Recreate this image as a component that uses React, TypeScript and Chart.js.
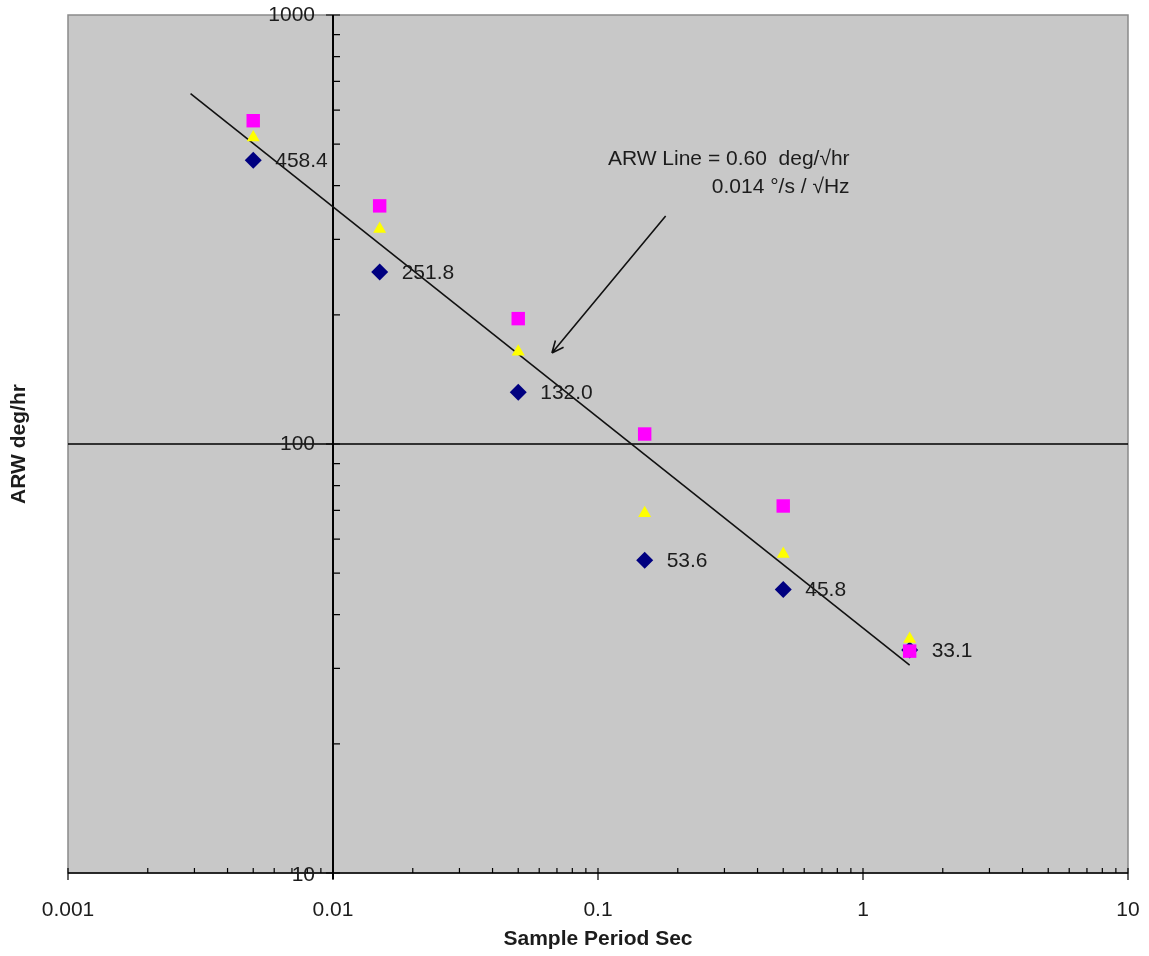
import React, { useEffect, useRef } from 'react';
import { Chart, registerables } from 'chart.js';

Chart.register(...registerables);

// ---- data ----
const samplePeriods = [0.005, 0.015, 0.05, 0.15, 0.5, 1.5];
const arwBlue = [458.4, 251.8, 132.0, 53.6, 45.8, 33.1];
const arwPink = [567, 359, 196, 105.5, 71.7, 32.9];
const arwYellow = [518, 317, 164, 69, 55.4, 35.1];
const trendX = [0.0029, 1.5];
const trendY = [656, 30.5];
const xTickValues = [0.001, 0.01, 0.1, 1, 10];
const xTickLabels = ['0.001', '0.01', '0.1', '1', '10'];
const yTickValues = [10, 100, 1000];
const yTickLabels = ['10', '100', '1000'];
const annotationLines = ['ARW Line = 0.60  deg/\u221Ahr', '0.014 \u00B0/s / \u221AHz'];
const arrowFrom = { x: 0.18, y: 340 };
const arrowTo = { x: 0.067, y: 163 };
const annotationAnchor = { x: 0.89, y: 462 };

const FONT = "'Liberation Sans', Arial, sans-serif";
const TEXT = '#1c1c1c';
const PLOT_BG = '#c8c8c8';

export default function App() {
  const ref = useRef<HTMLCanvasElement>(null);

  useEffect(() => {
    const canvas = ref.current;
    if (!canvas) return;

    const decor = {
      id: 'decor',
      beforeDraw(chart: any) {
        const { ctx, chartArea: a } = chart;
        ctx.save();
        ctx.fillStyle = '#ffffff';
        ctx.fillRect(0, 0, chart.width, chart.height);
        ctx.fillStyle = PLOT_BG;
        ctx.fillRect(a.left, a.top, a.right - a.left, a.bottom - a.top);
        ctx.strokeStyle = '#8a8a8a';
        ctx.lineWidth = 1.5;
        ctx.strokeRect(a.left, a.top, a.right - a.left, a.bottom - a.top);
        ctx.restore();
      },
      beforeDatasetsDraw(chart: any) {
        const { ctx, chartArea: a } = chart;
        const xs = chart.scales.x;
        const ys = chart.scales.y;
        const x0 = xs.getPixelForValue(0.01);
        const y100 = ys.getPixelForValue(100);
        ctx.save();
        ctx.strokeStyle = '#000000';
        ctx.lineWidth = 1.5;
        ctx.beginPath();
        ctx.moveTo(a.left, y100);
        ctx.lineTo(a.right, y100);
        ctx.stroke();
        ctx.beginPath();
        ctx.moveTo(a.left, a.bottom);
        ctx.lineTo(a.right, a.bottom);
        ctx.stroke();
        ctx.lineWidth = 2;
        ctx.beginPath();
        ctx.moveTo(x0, a.top);
        ctx.lineTo(x0, a.bottom + 6);
        ctx.stroke();
        ctx.lineWidth = 1.2;
        ctx.beginPath();
        for (let d = 10; d < 1000; d *= 10) {
          for (let m = 2; m <= 9; m++) {
            const py = ys.getPixelForValue(m * d);
            ctx.moveTo(x0, py);
            ctx.lineTo(x0 + 7, py);
          }
        }
        yTickValues.forEach((v) => {
          const py = ys.getPixelForValue(v);
          ctx.moveTo(x0 - 7, py);
          ctx.lineTo(x0 + 7, py);
        });
        for (let d = 0.001; d < 9; d *= 10) {
          for (let m = 2; m <= 9; m++) {
            const px = xs.getPixelForValue(m * d);
            ctx.moveTo(px, a.bottom);
            ctx.lineTo(px, a.bottom - 5);
          }
        }
        xTickValues.forEach((v) => {
          const px = xs.getPixelForValue(v);
          ctx.moveTo(px, a.bottom - 5);
          ctx.lineTo(px, a.bottom + 7);
        });
        ctx.stroke();
        ctx.restore();
      },
      afterDatasetsDraw(chart: any) {
        const { ctx } = chart;
        const xs = chart.scales.x;
        const ys = chart.scales.y;
        const x0 = xs.getPixelForValue(0.01);
        ctx.save();
        ctx.font = `21px ${FONT}`;
        ctx.fillStyle = TEXT;
        ctx.textBaseline = 'middle';
        ctx.textAlign = 'right';
        yTickValues.forEach((v, i) => {
          let py = ys.getPixelForValue(v);
          if (v === 10) py += 2;
          ctx.fillText(yTickLabels[i], x0 - 18, py);
        });
        ctx.textAlign = 'left';
        const meta = chart.getDatasetMeta(2);
        meta.data.forEach((pt: any, i: number) => {
          ctx.fillText(arwBlue[i].toFixed(1), pt.x + 22, pt.y + 1);
        });
        ctx.textAlign = 'right';
        const ax = xs.getPixelForValue(annotationAnchor.x);
        const ay = ys.getPixelForValue(annotationAnchor.y);
        annotationLines.forEach((t, i) => ctx.fillText(t, ax, ay + i * 28));
        const fx = xs.getPixelForValue(arrowFrom.x);
        const fy = ys.getPixelForValue(arrowFrom.y);
        const tx = xs.getPixelForValue(arrowTo.x);
        const ty = ys.getPixelForValue(arrowTo.y);
        ctx.strokeStyle = '#111111';
        ctx.lineWidth = 1.6;
        ctx.beginPath();
        ctx.moveTo(fx, fy);
        ctx.lineTo(tx, ty);
        const ang = Math.atan2(ty - fy, tx - fx);
        const L = 13;
        ctx.moveTo(tx, ty);
        ctx.lineTo(tx - L * Math.cos(ang - 0.42), ty - L * Math.sin(ang - 0.42));
        ctx.moveTo(tx, ty);
        ctx.lineTo(tx - L * Math.cos(ang + 0.42), ty - L * Math.sin(ang + 0.42));
        ctx.stroke();
        ctx.restore();
      },
    };

    const chart = new Chart(canvas, {
      type: 'scatter',
      data: {
        datasets: [
          {
            label: 'Pink',
            data: samplePeriods.map((x, i) => ({ x, y: arwPink[i] })),
            pointStyle: 'rect',
            pointRadius: 9.5,
            backgroundColor: '#ff00ff',
            borderColor: '#ff00ff',
            borderWidth: 0,
          },
          {
            label: 'Yellow',
            data: samplePeriods.map((x, i) => ({ x, y: arwYellow[i] })),
            pointStyle: 'triangle',
            pointRadius: 7.5,
            backgroundColor: '#ffff00',
            borderColor: '#ffff00',
            borderWidth: 0,
          },
          {
            label: 'Blue',
            data: samplePeriods.map((x, i) => ({ x, y: arwBlue[i] })),
            pointStyle: 'rectRot',
            pointRadius: 8.5,
            backgroundColor: '#000080',
            borderColor: '#000080',
            borderWidth: 0,
          },
          {
            type: 'line',
            label: 'ARW Line',
            data: trendX.map((x, i) => ({ x, y: trendY[i] })),
            borderColor: '#111111',
            borderWidth: 1.6,
            pointRadius: 0,
            showLine: true,
            fill: false,
          } as any,
        ],
      },
      options: {
        responsive: false,
        animation: false,
        events: [],
        layout: { padding: { top: 15, right: 21, left: 0, bottom: 0 } },
        plugins: {
          legend: { display: false },
          tooltip: { enabled: false },
        },
        scales: {
          x: {
            type: 'logarithmic',
            position: 'bottom',
            min: 0.001,
            max: 10,
            grid: { display: false, drawTicks: false },
            border: { display: false },
            afterBuildTicks: (scale: any) => {
              scale.ticks = xTickValues.map((v) => ({ value: v }));
            },
            afterFit: (scale: any) => {
              scale.height = 83;
              scale.paddingLeft = 0;
              scale.paddingRight = 0;
            },
            ticks: {
              autoSkip: false,
              maxRotation: 0,
              padding: 25,
              color: TEXT,
              font: { family: FONT, size: 21 },
              callback: (v: any) => {
                const i = xTickValues.findIndex((t) => Math.abs(t - Number(v)) / t < 1e-6);
                return i >= 0 ? xTickLabels[i] : '';
              },
            },
            title: {
              display: true,
              text: 'Sample Period Sec',
              color: TEXT,
              font: { family: FONT, size: 21, weight: 'bold' },
              padding: { top: 0, bottom: 4 },
            },
          },
          y: {
            type: 'logarithmic',
            position: 'left',
            min: 10,
            max: 1000,
            grid: { display: false, drawTicks: false },
            border: { display: false },
            ticks: { display: false },
            afterFit: (scale: any) => {
              scale.width = 68;
              scale.paddingTop = 0;
              scale.paddingBottom = 0;
            },
            title: {
              display: true,
              text: 'ARW deg/hr',
              color: TEXT,
              font: { family: FONT, size: 21, weight: 'bold' },
              padding: { top: 7, bottom: 0 },
            },
          },
        },
      },
      plugins: [decor],
    } as any);

    return () => chart.destroy();
  }, []);

  return (
    <div style={{ position: 'fixed', left: 0, top: 0, width: 1149, height: 956, background: '#fff' }}>
      <canvas ref={ref} width={1149} height={956} style={{ display: 'block' }} />
    </div>
  );
}
